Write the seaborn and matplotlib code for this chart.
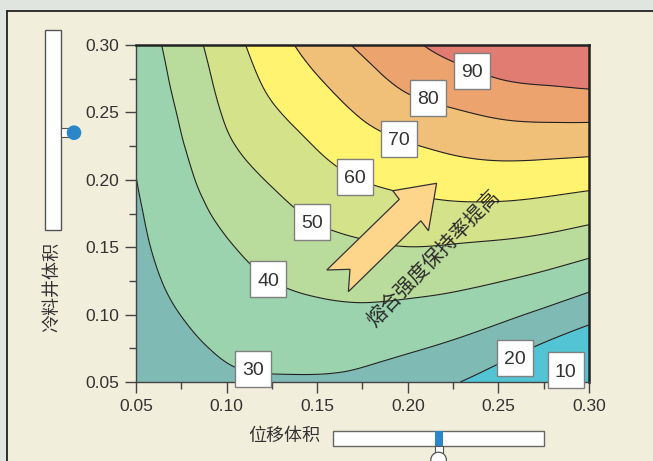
import numpy as np
import matplotlib
matplotlib.use("Agg")
import matplotlib.pyplot as plt
import matplotlib.tri as mtri
from matplotlib.patches import Polygon, Rectangle, Circle
import seaborn as sns

# 网格：位移体积 (x) / 冷料井体积 (y)
x_disp = [0.05, 0.075, 0.10, 0.125, 0.15, 0.175, 0.20, 0.225, 0.25, 0.275, 0.30]
y_cold = [0.05, 0.075, 0.10, 0.125, 0.15, 0.175, 0.20, 0.225, 0.25, 0.275, 0.30]

# 熔合强度保持率 (%)，每个位移体积一列，自下而上
z_x050 = [25.0, 25.8, 26.6, 27.4, 28.2, 29.0, 29.9, 31.0, 32.0, 33.0, 34.0]
z_x075 = [27.0, 28.3, 30.1, 32.0, 33.8, 35.6, 37.5, 39.3, 41.1, 42.9, 44.7]
z_x100 = [28.8, 31.0, 33.7, 36.4, 39.1, 42.2, 45.3, 48.5, 51.2, 53.4, 55.6]
z_x125 = [29.2, 32.6, 36.3, 40.0, 43.6, 47.1, 50.8, 54.8, 58.8, 62.3, 65.6]
z_x150 = [29.1, 33.2, 37.7, 42.2, 46.8, 51.4, 56.0, 60.5, 65.0, 69.5, 74.2]
z_x175 = [28.0, 32.8, 38.1, 43.4, 48.7, 54.4, 60.2, 65.7, 71.2, 76.4, 81.8]
z_x200 = [24.5, 31.0, 37.1, 43.4, 49.9, 56.3, 62.7, 69.2, 76.3, 82.6, 88.0]
z_x225 = [20.7, 28.2, 35.3, 42.3, 49.3, 57.1, 64.7, 71.9, 79.1, 86.4, 93.6]
z_x250 = [15.5, 23.9, 32.3, 40.3, 48.2, 56.9, 65.4, 73.5, 81.6, 90.0, 97.0]
z_x275 = [9.5, 18.4, 28.1, 37.4, 46.4, 55.6, 64.6, 73.6, 82.7, 91.6, 99.0]
z_x300 = [5.0, 13.0, 23.2, 33.3, 43.3, 53.3, 63.2, 73.1, 83.0, 92.8, 100.0]

levels = [20, 30, 40, 50, 60, 70, 80, 90]
band_colors = ["#52c4d4", "#7fbab4", "#9bd3ae", "#b9db9b", "#d4e28a",
               "#fff36f", "#f0c078", "#eca36e", "#e07c72"]

# 等值线标签
label_text = ["90", "80", "70", "60", "50", "40", "30", "20", "10"]
label_x = [0.2353, 0.211, 0.1951, 0.1709, 0.147, 0.123, 0.1144, 0.2592, 0.2871]
label_y = [0.281, 0.2609, 0.2305, 0.2023, 0.169, 0.1264, 0.0597, 0.068, 0.0589]

# 箭头轮廓
arrow_x = [0.2159, 0.1917, 0.1953, 0.1553, 0.1681, 0.1672, 0.2072, 0.2114]
arrow_y = [0.1974, 0.1919, 0.1855, 0.1331, 0.1336, 0.1170, 0.1696, 0.1622]

sns.set_theme(style="ticks")
plt.rcParams["font.family"] = ["Liberation Sans", "DejaVu Sans"]
cjk = ["Noto Sans CJK SC", "DejaVu Sans"]

W, H = 653, 461
fig = plt.figure(figsize=(W / 100, H / 100), dpi=100, facecolor="#f2eedc")

# 背景装饰与滑块 (像素坐标)
deco = fig.add_axes([0, 0, 1, 1], zorder=0)
deco.set_xlim(0, W)
deco.set_ylim(H, 0)
deco.axis("off")
deco.add_patch(Rectangle((0, 0), W, 11, fc="#e1e5df", ec="none"))
deco.add_patch(Rectangle((0, 0), 7.3, H, fc="#e1e5df", ec="none"))
deco.plot([7.3, W], [11, 11], color="#222222", lw=1.3)
deco.plot([7.3, 7.3], [11, H], color="#222222", lw=1.3)

deco.add_patch(Rectangle((45.3, 30), 15.4, 200, fc="white", ec="#555555", lw=1))
deco.add_patch(Rectangle((60.7, 128.3), 7.6, 8.4, fc="white", ec="#555555", lw=0.8))
deco.add_patch(Circle((74, 132.7), 7.3, fc="#2a85c9", ec="none"))

deco.add_patch(Rectangle((332.8, 430.7), 211.6, 15.1, fc="white", ec="#666666", lw=1))
deco.add_patch(Rectangle((435.1, 430.7), 8.1, 15.1, fc="#2a85c9", ec="none"))
deco.add_patch(Rectangle((435.1, 445.8), 8.1, 7, fc="white", ec="#555555", lw=0.8))
deco.add_patch(Circle((438.6, 460), 7.8, fc="white", ec="#555555", lw=0.9))

deco.text(284, 436, "位移体积", ha="center", va="center", fontsize=13,
          family=cjk, color="#333333")
deco.text(52, 287, "冷料井体积", ha="center", va="center", fontsize=13,
          rotation=90, family=cjk, color="#333333")

# 主图
ax = fig.add_axes([136 / W, 1 - 382 / H, 453 / W, 337 / H], zorder=1)

Z = np.column_stack([z_x050, z_x075, z_x100, z_x125, z_x150, z_x175,
                     z_x200, z_x225, z_x250, z_x275, z_x300])
X, Y = np.meshgrid(x_disp, y_cold)
tri = mtri.Triangulation(X.ravel(), Y.ravel())
tri_f, z_f = mtri.UniformTriRefiner(tri).refine_field(Z.ravel(), subdiv=4)

ax.tricontourf(tri_f, z_f, levels=[-100] + levels + [300], colors=band_colors)
ax.tricontour(tri_f, z_f, levels=levels, colors="#222222", linewidths=0.8)

ax.add_patch(Polygon(list(zip(arrow_x, arrow_y)), closed=True, fc="#fdd68b",
                     ec="#333333", lw=0.9, zorder=4))
ax.text(0.2141, 0.1417, "熔合强度保持率提高", rotation=46, rotation_mode="anchor",
        ha="center", va="center", fontsize=14.5, family=cjk, color="#2a2a2a", zorder=6)

for t, lx, ly in zip(label_text, label_x, label_y):
    ax.plot(lx, ly, marker="s", ms=26.6, mfc="white", mec="#808080", mew=1,
            clip_on=False, zorder=7)
    ax.text(lx, ly, t, ha="center", va="center_baseline", fontsize=14,
            color="#333333", zorder=8, clip_on=False)

ax.set_xlim(0.05, 0.30)
ax.set_ylim(0.05, 0.30)
ticks = [0.05, 0.10, 0.15, 0.20, 0.25, 0.30]
ax.set_xticks(ticks)
ax.set_yticks(ticks)
ax.set_xticklabels([f"{t:.2f}" for t in ticks])
ax.set_yticklabels([f"{t:.2f}" for t in ticks])
ax.set_xticks([0.075, 0.125, 0.175, 0.225, 0.275], minor=True)
ax.set_yticks([0.075, 0.125, 0.175, 0.225, 0.275], minor=True)
ax.tick_params(which="major", length=8, width=1, color="#444444",
               labelsize=12.5, labelcolor="#333333", pad=4)
ax.tick_params(which="minor", length=5, width=1, color="#444444")
for side in ["left", "bottom"]:
    ax.spines[side].set_color("#444444")
    ax.spines[side].set_linewidth(1)
for side in ["top", "right"]:
    ax.spines[side].set_color("#222222")
    ax.spines[side].set_linewidth(1.8)

fig.savefig("out.png", dpi=100, facecolor=fig.get_facecolor())
